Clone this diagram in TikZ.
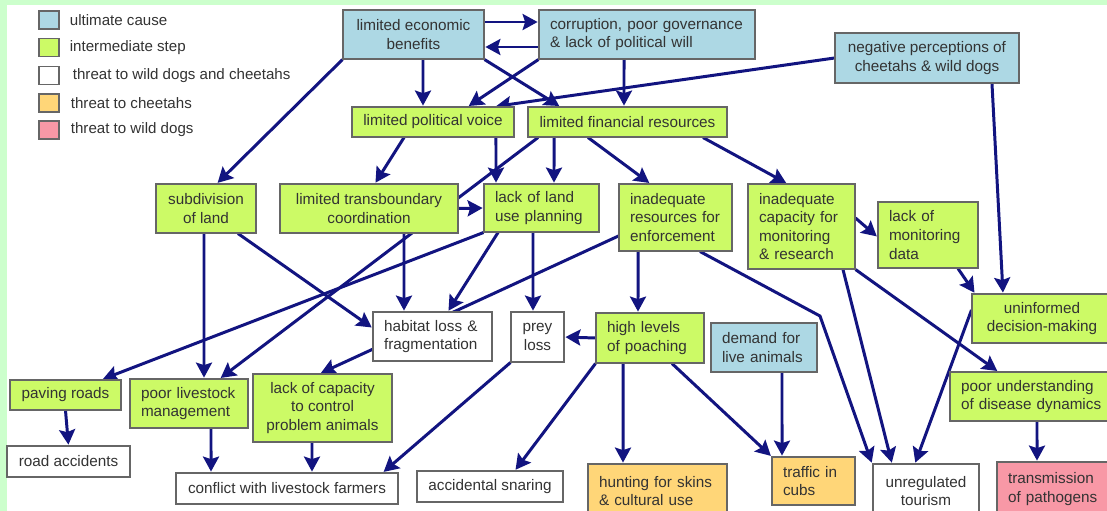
\documentclass[tikz,border=0pt]{standalone}
\usepackage{fontspec}
\setmainfont{Liberation Sans}
\usetikzlibrary{arrows.meta,positioning}

\definecolor{ucause}{RGB}{173,216,228}
\definecolor{istep}{RGB}{204,250,102}
\definecolor{tcheet}{RGB}{255,214,120}
\definecolor{tdogs}{RGB}{248,152,166}
\definecolor{arrowblue}{RGB}{18,20,128}
\definecolor{frame}{RGB}{204,255,204}

\pgfdeclarelayer{bg}
\pgfdeclarelayer{links}
\pgfsetlayers{bg,links,main}

\tikzset{
  box/.style={draw=black!60, line width=0.6pt, text=black!80, inner sep=0pt,
    font=\fontsize{8.7}{10.6}\selectfont},
  cause/.style={box, fill=ucause},
  inter/.style={box, fill=istep},
  both/.style={box, fill=white},
  cheet/.style={box, fill=tcheet},
  dogs/.style={box, fill=tdogs},
  ctr/.style={align=center},
  lft/.style={align=left, inner xsep=0.22cm},
  link/.style={-{Stealth[length=0.3cm,width=0.32cm,inset=0.05cm]}, draw=arrowblue,
    line width=1.7pt, shorten >=0.5pt},
  lgsq/.style={draw=black!60, line width=0.6pt, minimum width=0.4cm,
    minimum height=0.36cm, inner sep=0pt},
  lgtext/.style={text=black!80, inner sep=0pt, font=\fontsize{8.6}{10}\selectfont}
}

\begin{document}
\begin{tikzpicture}[x=0.02cm, y=-0.02cm]
  \useasboundingbox (0,0) rectangle (1107,511);
  \clip (0,0) rectangle (1107,511);

  % legend
  \node[lgsq, fill=ucause] (lg1) at (49,20) {};
  \node[lgtext, right=0.2cm of lg1] (lt1) {ultimate cause};
  \node[lgsq, fill=istep] (lg2) at (49,47.5) {};
  \node[lgtext, right=0.2cm of lg2] (lt2) {intermediate step};
  \node[lgsq, fill=white] (lg3) at (49,75.5) {};
  \node[lgtext, right=0.26cm of lg3] (lt3) {threat to wild dogs and cheetahs};
  \node[lgsq, fill=tcheet] (lg4) at (49,103) {};
  \node[lgtext, right=0.22cm of lg4] (lt4) {threat to cheetahs};
  \node[lgsq, fill=tdogs] (lg5) at (49,130) {};
  \node[lgtext, right=0.22cm of lg5] (lt5) {threat to wild dogs};

  % ultimate causes and top row
  \node[cause, ctr, minimum width=2.82cm, minimum height=0.98cm] (econ) at (413.5,34.5) {limited economic\\benefits};
  \node[cause, lft, text width=3.88cm, minimum height=0.98cm] (corr) at (647,34.5) {corruption, poor governance\\\& lack of political will};
  \node[cause, ctr, minimum width=3.68cm, minimum height=1cm] (negp) at (927,58) {negative perceptions of\\cheetahs \& wild dogs};
  \node[inter, ctr, minimum width=3.24cm, minimum height=0.6cm] (lpv) at (433,122) {limited political voice};
  \node[inter, ctr, minimum width=3.98cm, minimum height=0.6cm] (lfr) at (627.5,122) {limited financial resources};

  % middle row
  \node[inter, ctr, minimum width=2cm, minimum height=0.98cm] (subd) at (206,208.5) {subdivision\\of land};
  \node[inter, ctr, minimum width=3.56cm, minimum height=0.98cm] (ltc) at (369,208.5) {limited transboundary\\coordination};
  \node[inter, lft, text width=1.86cm, minimum height=0.96cm] (lup) at (541.5,208) {lack of land\\use planning};
  \node[inter, lft, text width=1.82cm, minimum height=1.34cm] (ire) at (675.5,217.5) {inadequate\\resources for\\enforcement};
  \node[inter, lft, text width=1.70cm, minimum height=1.7cm] (icm) at (801.5,226.5) {inadequate\\capacity for\\monitoring\\\& research};
  \node[inter, lft, text width=1.56cm, minimum height=1.32cm] (lmd) at (928,235) {lack of\\monitoring\\data};
  \node[inter, ctr, minimum width=2.8cm, minimum height=0.98cm] (uninf) at (1042,318.5) {uninformed\\decision-making};

  \node[both, lft, text width=1.94cm, minimum height=0.98cm] (hab) at (432.5,336.5) {habitat loss \&\\fragmentation};
  \node[both, ctr, minimum width=1.06cm, minimum height=1cm] (prey) at (537.5,337) {prey\\loss};
  \node[inter, lft, text width=1.72cm, minimum height=1cm] (poach) at (650,338) {high levels\\of poaching};
  \node[cause, lft, text width=1.68cm, minimum height=0.98cm] (dem) at (764,347.5) {demand for\\live animals};
  \node[inter, lft, text width=2.96cm, minimum height=0.98cm] (pudd) at (1035,396.5) {poor understanding\\of disease dynamics};

  \node[inter, ctr, minimum width=2.22cm, minimum height=0.6cm] (pave) at (65.5,395) {paving roads};
  \node[inter, lft, text width=1.92cm, minimum height=0.98cm] (poorl) at (189,403.5) {poor livestock\\management};
  \node[inter, ctr, minimum width=2.78cm, minimum height=1.36cm] (lcap) at (322.5,408) {lack of capacity\\to control\\problem animals};

  % threats
  \node[both, ctr, minimum width=2.46cm, minimum height=0.62cm] (road) at (68.5,461.5) {road accidents};
  \node[both, ctr, minimum width=4.44cm, minimum height=0.62cm] (confl) at (287,488.5) {conflict with livestock farmers};
  \node[both, ctr, minimum width=2.92cm, minimum height=0.62cm] (snare) at (490,486.5) {accidental snaring};
  \node[cheet, lft, text width=2.34cm, minimum height=1.08cm] (hunt) at (657.5,491) {hunting for skins\\\& cultural use};
  \node[cheet, lft, text width=1.22cm, minimum height=0.96cm] (traf) at (813.5,481) {traffic in\\cubs};
  \node[both, ctr, minimum width=2.12cm, minimum height=1.08cm] (tour) at (926,491) {unregulated\\tourism};
  \node[dogs, lft, text width=1.86cm, minimum height=1.08cm] (trans) at (1054.5,489) {transmission\\of pathogens};

  \coordinate (bend) at (820,316);

  \begin{pgfonlayer}{bg}
    \fill[frame] (0,0) rectangle (1107,511);
    \fill[white] (7,5) rectangle (1107,511);
  \end{pgfonlayer}

  \begin{pgfonlayer}{links}
    \draw[link] ([yshift=0.25cm]econ.east) -- ([yshift=0.25cm]corr.west);
    \draw[link] ([yshift=-0.25cm]corr.west) -- ([yshift=-0.25cm]econ.east);
    \draw[link] (econ.south west) -- ([xshift=0.22cm]subd.north);
    \draw[link] ([xshift=0.19cm]econ.south) -- ([xshift=-0.2cm]lpv.north);
    \draw[link] (econ.south east) -- ([xshift=-1.35cm]lfr.north);
    \draw[link] (corr.south west) -- ([xshift=0.7cm]lpv.north);
    \draw[link] ([xshift=-0.46cm]corr.south) -- ([xshift=-0.07cm]lfr.north);
    \draw[link] (negp.west) -- ([xshift=1.24cm]lpv.north);
    \draw[link] ([xshift=1.3cm]negp.south) -- ([xshift=-0.78cm]uninf.north);
    \draw[link] ([xshift=-0.58cm]lpv.south) -- ([xshift=0.12cm]ltc.north);
    \draw[link] ([xshift=1.26cm]lpv.south) -- ([xshift=-0.91cm]lup.north);
    \draw[link] ([xshift=-1.79cm]lfr.south) -- ([xshift=0.62cm]poorl.north);
    \draw[link] ([xshift=-1.47cm]lfr.south) -- ([xshift=0.25cm]lup.north);
    \draw[link] ([xshift=-0.79cm]lfr.south) -- ([xshift=-0.51cm]ire.north);
    \draw[link] ([xshift=1.51cm]lfr.south) -- ([xshift=-0.29cm]icm.north);
    \draw[link] (ltc.east) -- (lup.west);
    \draw[link] ([xshift=0.7cm]ltc.south) -- ([xshift=-0.57cm]hab.north);
    \draw[link] ([xshift=-0.04cm]subd.south) -- ([xshift=0.3cm]poorl.north);
    \draw[link] ([xshift=0.64cm]subd.south) -- ([yshift=0.17cm]hab.west);
    \draw[link] (lup.south west) -- ([xshift=0.73cm]pave.north);
    \draw[link] ([xshift=-0.87cm]lup.south) -- ([xshift=0.31cm]hab.north);
    \draw[link] ([xshift=-0.17cm]lup.south) -- ([xshift=-0.09cm]prey.north);
    \draw[link] ([yshift=-0.37cm]ire.west) -- ([xshift=-0.05cm]lcap.north);
    \draw[link] ([xshift=-0.75cm]ire.south) -- ([xshift=-0.24cm]poach.north);
    \draw[link] ([xshift=0.49cm]ire.south) -- (bend) -- ([xshift=-1.08cm]tour.north);
    \draw[link] ([yshift=0.17cm]icm.east) -- ([yshift=-0.04cm]lmd.west);
    \draw[link] ([xshift=0.83cm]icm.south) -- ([xshift=-0.68cm]tour.north);
    \draw[link] (icm.south east) -- ([xshift=-0.74cm]pudd.north);
    \draw[link] ([xshift=0.6cm]lmd.south) -- ([xshift=-1.34cm]uninf.north);
    \draw[link] ([yshift=0.17cm]uninf.west) -- ([xshift=-0.22cm]tour.north);
    \draw[link] ([xshift=0.04cm]pudd.south) -- ([xshift=-0.35cm]trans.north);
    \draw[link] (poach.west) -- (prey.east);
    \draw[link] (poach.south west) -- ([xshift=0.5cm]snare.north);
    \draw[link] ([xshift=-0.54cm]poach.south) -- ([xshift=-0.69cm]hunt.north);
    \draw[link] ([xshift=0.44cm]poach.south) -- (traf.north west);
    \draw[link] ([xshift=0.36cm]dem.south) -- ([xshift=-0.63cm]traf.north);
    \draw[link] (prey.south west) -- ([xshift=1.92cm]confl.north);
    \draw[link] (pave.south) -- (road.north);
    \draw[link] ([xshift=0.44cm]poorl.south) -- ([xshift=-1.52cm]confl.north);
    \draw[link] ([xshift=-0.21cm]lcap.south) -- ([xshift=0.5cm]confl.north);
  \end{pgfonlayer}
\end{tikzpicture}
\end{document}
